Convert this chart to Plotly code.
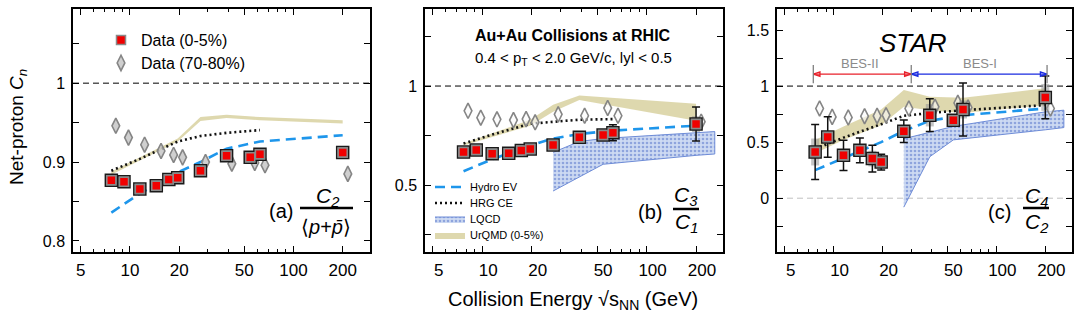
import math
import plotly.graph_objects as go

# ---------------- data ----------------
E_central = [7.7, 9.2, 11.5, 14.5, 17.3, 19.6, 27, 39, 54.4, 62.4, 200]
E_periph = [8.2, 9.8, 12.3, 15.5, 18.5, 21, 29, 42, 58, 67, 215]

# panel (a) C2/<p+pbar>
c2_central = [0.877, 0.875, 0.866, 0.870, 0.878, 0.880, 0.889, 0.908, 0.906, 0.910, 0.912]
c2_periph = [0.946, 0.931, 0.922, 0.914, 0.909, 0.906, 0.900, 0.898, 0.899, 0.896, 0.885]

# panel (b) C3/C1
c31_central = [0.667, 0.677, 0.658, 0.660, 0.675, 0.682, 0.702, 0.741, 0.753, 0.764, 0.808]
c31_stat = [0.01, 0.012, 0.012, 0.012, 0.012, 0.012, 0.015, 0.02, 0.02, 0.04, 0.086]
c31_sys = [0.01, 0.01, 0.01, 0.01, 0.01, 0.01, 0.01, 0.01, 0.01, 0.02, 0.04]
c31_periph = [0.875, 0.840, 0.832, 0.828, 0.833, 0.817, 0.857, 0.850, 0.889, 0.850, 0.820]

# panel (c) C4/C2
c42_central = [0.412, 0.546, 0.382, 0.427, 0.353, 0.322, 0.597, 0.740, 0.696, 0.791, 0.899]
c42_stat = [0.245, 0.18, 0.135, 0.11, 0.12, 0.07, 0.10, 0.146, 0.04, 0.236, 0.19]
c42_sys = [0.12, 0.05, 0.05, 0.04, 0.07, 0.04, 0.04, 0.10, 0.03, 0.08, 0.12]
c42_periph = [0.80, 0.725, 0.72, 0.731, 0.734, 0.74, 0.80, 0.815, 0.85, 0.809, 0.80]

# models
E_hydro = [7.7, 11.5, 19.6, 27, 39, 62.4, 200]
hydro_a = [0.836, 0.860, 0.887, 0.900, 0.917, 0.926, 0.934]
hydro_b = [0.57, 0.63, 0.70, 0.735, 0.758, 0.775, 0.80]
hydro_c = [0.25, 0.36, 0.50, 0.60, 0.69, 0.74, 0.80]

E_hrg_ab = [7.7, 11.5, 19.6, 27, 39, 62.4]
hrg_a = [0.889, 0.904, 0.926, 0.933, 0.937, 0.9405]
hrg_b = [0.71, 0.755, 0.81, 0.82, 0.83, 0.833]
E_hrg_c = [7.7, 11.5, 19.6, 27, 39, 62.4, 200]
hrg_c = [0.44, 0.54, 0.66, 0.735, 0.76, 0.785, 0.83]

E_urqmd_a = [7.7, 19.6, 27, 39, 62.4, 200]
urqmd_a_lo = [0.884, 0.926, 0.952, 0.956, 0.953, 0.949]
urqmd_a_hi = [0.888, 0.930, 0.957, 0.960, 0.957, 0.953]
E_urqmd_b = [7.7, 19.6, 27, 39, 200]
urqmd_b_lo = [0.70, 0.80, 0.87, 0.93, 0.825]
urqmd_b_hi = [0.71, 0.83, 0.905, 0.952, 0.91]
E_urqmd_c = [7.7, 11.5, 19.6, 27, 39, 62.4, 200]
urqmd_c_lo = [0.40, 0.52, 0.65, 0.815, 0.785, 0.76, 0.83]
urqmd_c_hi = [0.52, 0.64, 0.79, 0.965, 0.905, 0.895, 0.98]

E_lqcd = [27, 39, 54.4, 200, 260]
lqcd_b_lo = [0.47, 0.54, 0.605, 0.65, 0.657]
lqcd_b_hi = [0.665, 0.72, 0.735, 0.763, 0.77]
lqcd_c_lo = [-0.08, 0.37, 0.52, 0.61, 0.63]
lqcd_c_hi = [0.53, 0.59, 0.64, 0.77, 0.785]

# BES program ranges (panel c)
bes_edges = [7.5, 30, 205]
bes_y = 1.107

x_tickvals = [5, 10, 20, 50, 100, 200]
x_ticktext = ["5", "10", "20", "50", "100", "200"]
x_minor = [6, 7, 8, 9, 30, 40, 60, 70, 80, 90, 300]

y_major = [[0.8, 0.9, 1.0], [0.5, 1.0], [0, 0.5, 1.0, 1.5]]
y_labels = [["0.8", "0.9", "1"], ["0.5", "1"], ["0", "0.5", "1", "1.5"]]
y_minor = [[0.85, 0.95, 1.05], [0.25, 0.75, 1.25], [-0.25, 0.25, 0.75, 1.25]]

# ---------------- styling ----------------
FONT = "Liberation Sans, Arial, Helvetica, sans-serif"
RED = "#f00000"
HYDRO = "#1e96eb"
URQMD = "rgba(200,190,120,0.6)"
LQCD_LINE = "rgba(110,140,215,1)"
W, H = 1080, 321

fig = go.Figure()


def sfx(i):
    return "" if i == 1 else str(i)


def band(i, E, lo, hi, name, legend_key, color, pattern=None, line=None):
    kw = dict(
        x=list(E) + list(E)[::-1],
        y=list(hi) + list(lo)[::-1],
        fill="toself",
        mode="lines",
        line=dict(width=line[1] if line else 0, color=line[0] if line else color),
        fillcolor=color,
        name=name,
        showlegend=legend_key is not None,
        legend=legend_key or "legend",
        xaxis="x" + sfx(i),
        yaxis="y" + sfx(i),
        hoverinfo="skip",
    )
    if pattern:
        kw["fillpattern"] = pattern
    fig.add_trace(go.Scatter(**kw))


def model_line(i, E, vals, name, legend_key, color, dash, width):
    fig.add_trace(go.Scatter(
        x=E, y=vals, mode="lines", name=name, showlegend=legend_key is not None,
        legend=legend_key or "legend",
        line=dict(color=color, dash=dash, width=width),
        xaxis="x" + sfx(i), yaxis="y" + sfx(i)))


lqcd_pattern = dict(shape=".", fgcolor="rgba(80,110,200,1)", bgcolor="rgba(205,218,242,1)",
                    size=4, solidity=0.35)

# panel a models
band(1, E_urqmd_a, urqmd_a_lo, urqmd_a_hi, "UrQMD (0-5%)", None, URQMD)
model_line(1, E_hrg_ab, hrg_a, "HRG CE", None, "#111", "2px,3px", 2.6)
model_line(1, E_hydro, hydro_a, "Hydro EV", None, HYDRO, "10px,6px", 2.6)

# panel b models (these carry the model legend)
band(2, E_urqmd_b, urqmd_b_lo, urqmd_b_hi, "UrQMD (0-5%)", "legend6", URQMD)
band(2, E_lqcd, lqcd_b_lo, lqcd_b_hi, "LQCD", "legend5", "rgba(205,218,242,1)",
     pattern=lqcd_pattern, line=(LQCD_LINE, 1))
model_line(2, E_hrg_ab, hrg_b, "HRG CE", "legend4", "#111", "2px,3px", 2.6)
model_line(2, E_hydro, hydro_b, "Hydro EV", "legend3", HYDRO, "10px,6px", 2.6)

# panel c models
band(3, E_urqmd_c, urqmd_c_lo, urqmd_c_hi, "UrQMD (0-5%)", None, URQMD)
band(3, E_lqcd, lqcd_c_lo, lqcd_c_hi, "LQCD", None, "rgba(205,218,242,1)",
     pattern=lqcd_pattern, line=(LQCD_LINE, 1))
model_line(3, E_hrg_c, hrg_c, "HRG CE", None, "#111", "2px,3px", 2.6)
model_line(3, E_hydro, hydro_c, "Hydro EV", None, HYDRO, "10px,6px", 2.6)

# data
panels_data = [
    (1, c2_central, None, None, c2_periph, "rgba(195,195,195,0.8)"),
    (2, c31_central, c31_stat, c31_sys, c31_periph, "rgba(250,250,250,0.6)"),
    (3, c42_central, c42_stat, c42_sys, c42_periph, "rgba(250,250,250,0.6)"),
]
for i, cen, stat, sys_, per, dfill in panels_data:
    xa, ya = "x" + sfx(i), "y" + sfx(i)
    fig.add_trace(go.Scatter(
        x=E_periph, y=per, mode="markers", name="Data (70-80%)", showlegend=(i == 1),
        legend="legend2",
        marker=dict(symbol="diamond-tall", size=11, color=dfill,
                    line=dict(color="#858585", width=1.6)),
        xaxis=xa, yaxis=ya))
    if sys_ is not None:
        fig.add_trace(go.Scatter(
            x=E_central, y=cen, mode="markers", showlegend=False,
            marker=dict(size=1, color="rgba(0,0,0,0)"),
            error_y=dict(type="data", array=sys_, color="rgba(150,150,150,0.55)",
                         thickness=8, width=0),
            xaxis=xa, yaxis=ya, hoverinfo="skip"))
    ey = None
    if stat is not None:
        ey = dict(type="data", array=stat, color="#111", thickness=1.5, width=4)
    fig.add_trace(go.Scatter(
        x=E_central, y=cen, mode="markers", showlegend=False,
        marker=dict(symbol="square", size=12, color="#9a9a9a",
                    line=dict(color="#1a1a1a", width=1.5)),
        error_y=ey, xaxis=xa, yaxis=ya))
    fig.add_trace(go.Scatter(
        x=E_central, y=cen, mode="markers", name="Data (0-5%)", showlegend=(i == 1),
        legend="legend",
        marker=dict(symbol="square", size=9, color=RED,
                    line=dict(color="#8a8a8a", width=1.5)),
        xaxis=xa, yaxis=ya))

# BES range arrows and end markers (panel c)
for (e0, e1), col in [((bes_edges[0], bes_edges[1]), "#e8202a"),
                      ((bes_edges[1], bes_edges[2]), "#1a2be0")]:
    fig.add_trace(go.Scatter(
        x=[e0, e1], y=[bes_y, bes_y], mode="lines+markers", showlegend=False,
        line=dict(color=col, width=1.3),
        marker=dict(symbol="arrow-open", size=7, angle=[-90, 90], color=col,
                    line=dict(color=col, width=1.3)),
        cliponaxis=False, xaxis="x3", yaxis="y3", hoverinfo="skip"))
fig.add_trace(go.Scatter(
    x=bes_edges, y=[bes_y] * len(bes_edges), mode="markers", showlegend=False,
    marker=dict(symbol="line-ns", size=13, line=dict(color="#808080", width=1.3)),
    xaxis="x3", yaxis="y3", hoverinfo="skip"))

# ---------------- axes ----------------
x_domains = [(73, 369.5), (425, 723), (777, 1072)]
y_dom = [1 - 252 / H, 1 - 9 / H]
y_ranges = [[0.786, 1.094], [0.162, 1.389], [-0.48, 1.6875]]
label_shift = [0, 6, 6]

layout = dict(
    width=W, height=H, autosize=False,
    margin=dict(l=0, r=0, t=0, b=0),
    paper_bgcolor="white", plot_bgcolor="white",
    font=dict(family=FONT, color="black", size=16),
)
for i in range(3):
    s = sfx(i + 1)
    layout["xaxis" + s] = dict(
        type="log", range=[0.652, 2.465],
        domain=[x_domains[i][0] / W, x_domains[i][1] / W],
        anchor="y" + s,
        tickmode="array", tickvals=x_tickvals, ticktext=x_ticktext,
        ticks="inside", ticklen=6, tickwidth=1.2, tickcolor="black",
        ticklabelshift=label_shift[i], ticklabelstandoff=2,
        minor=dict(tickmode="array", tickvals=x_minor, ticks="inside", ticklen=3,
                   tickwidth=1.1, tickcolor="black", showgrid=False),
        mirror="allticks", showline=True, linecolor="black", linewidth=1.5,
        showgrid=False, zeroline=False,
        tickfont=dict(size=17, family=FONT, color="black"),
    )
    layout["yaxis" + s] = dict(
        range=y_ranges[i], domain=y_dom, anchor="x" + s,
        tickmode="array", tickvals=y_major[i], ticktext=y_labels[i],
        ticks="inside", ticklen=6, tickwidth=1.2, tickcolor="black",
        ticklabelstandoff=3,
        minor=dict(tickmode="array", tickvals=y_minor[i], ticks="inside", ticklen=6,
                   tickwidth=1.2, tickcolor="black", showgrid=False),
        mirror="allticks", showline=True, linecolor="black", linewidth=1.5,
        showgrid=False, zeroline=False,
        tickfont=dict(size=16, family=FONT, color="black"),
    )


def leg(px, py, size):
    return dict(x=px / W, y=1 - py / H, xanchor="left", yanchor="middle",
                bgcolor="rgba(0,0,0,0)", borderwidth=0,
                font=dict(size=size, family=FONT, color="black"),
                tracegroupgap=0, itemwidth=30)


layout["legend"] = leg(101, 40, 16)
layout["legend2"] = leg(101, 63, 16)
layout["legend3"] = leg(430, 187, 11)
layout["legend4"] = leg(430, 203, 11)
layout["legend5"] = leg(430, 219, 11)
layout["legend6"] = leg(430, 235, 11)

shapes = []
for i in range(3):
    s = sfx(i + 1)
    shapes.append(dict(type="line", xref="x" + s + " domain", x0=0, x1=1,
                       yref="y" + s, y0=1, y1=1, layer="below",
                       line=dict(color="black", width=1, dash="6px,4px")))
shapes.append(dict(type="line", xref="x3 domain", x0=0, x1=1, yref="y3", y0=0, y1=0,
                   layer="below", line=dict(color="#c0c0c0", width=1, dash="6px,4px")))
# fraction bars
for x0, x1, yb in [(300, 353, 208), (673, 699, 209), (1023, 1049, 208)]:
    shapes.append(dict(type="line", xref="paper", yref="paper",
                       x0=x0 / W, x1=x1 / W, y0=1 - yb / H, y1=1 - yb / H,
                       line=dict(color="black", width=2.5)))
layout["shapes"] = shapes


def pa(text, px, py, size, **kw):
    d = dict(text=text, x=px / W, y=1 - py / H, xref="paper", yref="paper",
             showarrow=False, xanchor="center", yanchor="middle",
             font=dict(size=size, family=FONT, color=kw.pop("color", "black")))
    d.update(kw)
    return d


layout["annotations"] = [
    pa("Net-proton <i>C</i><sub><i>n</i></sub>", 18, 127, 19, textangle=-90),
    pa("Collision Energy √s<sub>NN</sub> (GeV)", 573, 300, 20),
    pa("<b>Au+Au Collisions at RHIC</b>", 573, 35, 16),
    pa("0.4 &lt; p<sub>T</sub> &lt; 2.0 GeV/c, lyl &lt; 0.5", 573, 58, 15),
    pa("<i>STAR</i>", 912, 43, 26),
    pa("(a)", 281, 211, 20),
    pa("<i>C<sub>2</sub></i>", 327, 197, 21),
    pa("⟨<i>p</i>+<i>p\u0304</i>⟩", 326, 227, 20),
    pa("(b)", 650, 212, 20),
    pa("<i>C<sub>3</sub></i>", 686, 196, 21),
    pa("<i>C<sub>1</sub></i>", 686, 223, 21),
    pa("(c)", 999, 212, 20),
    pa("<i>C<sub>4</sub></i>", 1036, 197, 21),
    pa("<i>C<sub>2</sub></i>", 1036, 223, 21),
    pa("BES-II", 860, 63, 13, color="#8a8a8a"),
    pa("BES-I", 980, 63, 13, color="#8a8a8a"),
]

fig.update_layout(**layout)
fig.write_html("out.html", config={"displayModeBar": False},
               post_script="document.body.style.margin='0px';")
